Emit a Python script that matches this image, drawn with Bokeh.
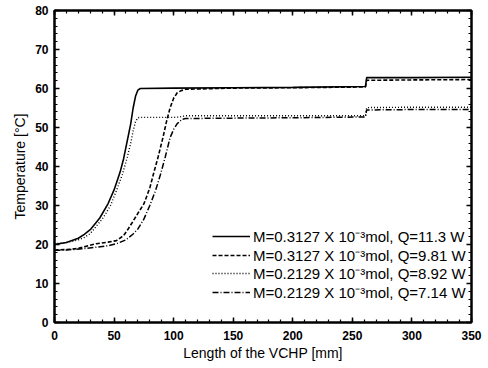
from bokeh.plotting import figure
from bokeh.models import (LinearAxis, SingleIntervalTicker, Range1d, Legend, LegendItem,
                          CustomJSTickFormatter)
from bokeh.embed import file_html
from bokeh.resources import INLINE

# Temperature profiles along the VCHP (length in mm, temperature in degC)
x_a = [0, 10, 20, 25, 30, 38, 45, 50, 55, 58, 62, 64, 66, 68, 70, 72, 100, 150, 200, 261, 262, 300, 350]
t_a = [20.0, 20.5, 21.6, 22.6, 23.8, 26.8, 30.5, 34.0, 38.5, 42.0, 48.0, 51.0, 55.0, 58.0, 59.6, 60.0,
       60.1, 60.2, 60.3, 60.5, 62.8, 62.8, 62.9]

x_b = [0, 10, 20, 35, 45, 52, 58, 61, 65, 70, 75, 80, 83, 87, 91, 94, 97, 100, 103, 106, 110, 150, 200,
       261, 262, 300, 350]
t_b = [18.6, 18.7, 19.0, 20.2, 20.6, 21.0, 22.3, 23.6, 25.5, 28.0, 30.4, 34.5, 38.0, 42.5, 47.4, 51.5,
       55.0, 57.5, 58.9, 59.4, 59.8, 60.1, 60.2, 60.4, 62.1, 62.2, 62.3]

x_c = [0, 10, 20, 25, 30, 41, 47, 52, 57, 61, 64, 66, 68, 70, 72, 100, 105, 110, 150, 200, 261, 262, 300, 350]
t_c = [20.2, 20.5, 21.2, 21.8, 22.8, 26.9, 30.0, 33.8, 38.0, 42.3, 46.0, 49.1, 51.5, 52.5, 52.6, 52.6,
       52.7, 53.0, 53.0, 53.0, 53.0, 55.1, 55.2, 55.2]

x_d = [0, 10, 24, 35, 45, 52, 60, 66, 70, 75, 80, 85, 89, 93, 97, 100, 103, 107, 110, 150, 200, 261, 262,
       300, 350]
t_d = [18.5, 18.6, 18.9, 19.3, 19.7, 20.2, 21.2, 22.7, 24.0, 26.5, 30.0, 34.0, 38.0, 42.5, 47.4, 49.5,
       51.0, 52.1, 52.3, 52.4, 52.5, 52.7, 54.5, 54.6, 54.6]

labels = [
    "M=0.3127 X 10\u207b\u00b3mol, Q=11.3 W",
    "M=0.3127 X 10\u207b\u00b3mol, Q=9.81 W",
    "M=0.2129 X 10\u207b\u00b3mol, Q=8.92 W",
    "M=0.2129 X 10\u207b\u00b3mol, Q=7.14 W",
]

FONT = "Liberation Sans"

p = figure(width=488, height=368, output_backend="svg", toolbar_location=None,
           x_range=Range1d(0, 350), y_range=Range1d(0, 80),
           min_border_left=54, min_border_right=17, min_border_top=10, min_border_bottom=46)
p.background_fill_color = "white"
p.border_fill_color = "white"
p.outline_line_color = "black"
p.outline_line_width = 2
p.xgrid.visible = False
p.ygrid.visible = False

r1 = p.line(x_a, t_a, line_color="black", line_width=1.6)
r2 = p.line(x_b, t_b, line_color="black", line_width=1.6, line_dash="4 2")
r3 = p.line(x_c, t_c, line_color="black", line_width=1.4, line_dash="1 2")
r4 = p.line(x_d, t_d, line_color="black", line_width=1.5, line_dash="6 2 1 2")


def style_axis(ax):
    ax.axis_line_color = "black"
    ax.axis_line_width = 2
    ax.major_tick_in = 5
    ax.major_tick_out = 0
    ax.minor_tick_in = 3
    ax.minor_tick_out = 0
    ax.major_tick_line_width = 1.5
    ax.minor_tick_line_width = 1.2
    ax.major_tick_line_color = "black"
    ax.minor_tick_line_color = "black"
    ax.major_label_text_font = FONT
    ax.major_label_text_font_size = "12px"
    ax.major_label_text_font_style = "bold"
    ax.major_label_text_color = "black"
    ax.axis_label_text_font = FONT
    ax.axis_label_text_font_size = "14px"
    ax.axis_label_text_font_style = "normal"
    ax.axis_label_text_color = "black"


p.xaxis.ticker = SingleIntervalTicker(interval=50, num_minor_ticks=5)
p.yaxis.ticker = SingleIntervalTicker(interval=10, num_minor_ticks=5)
p.xaxis.axis_label = "Length of the VCHP [mm]"
p.yaxis.axis_label = "Temperature [\u00b0C]"
style_axis(p.xaxis[0])
style_axis(p.yaxis[0])
p.xaxis.major_label_standoff = 8
p.xaxis.axis_label_standoff = 2
p.yaxis.major_label_standoff = 6
p.yaxis.axis_label_standoff = 4

# mirrored tick marks on the top and right edges of the frame, without labels
blank = CustomJSTickFormatter(code="return ''")
top = LinearAxis(ticker=SingleIntervalTicker(interval=50, num_minor_ticks=5), formatter=blank)
right = LinearAxis(ticker=SingleIntervalTicker(interval=10, num_minor_ticks=5), formatter=blank)
for ax in (top, right):
    style_axis(ax)
    ax.major_label_standoff = 0
p.add_layout(top, "above")
p.add_layout(right, "right")

# one single-entry legend per series so the rows can sit closer than the text box height
renderers = [r1, r2, r3, r4]
row_pitch = 18.7
for i, (lab, rend) in enumerate(zip(labels, renderers)):
    lg = Legend(items=[LegendItem(label=lab, renderers=[rend])],
                location=(158, 20 + (len(labels) - 1 - i) * row_pitch),
                border_line_color=None, background_fill_alpha=0,
                padding=0, margin=0, spacing=0, glyph_width=38, glyph_height=16,
                label_height=16, label_standoff=3, label_text_font=FONT,
                label_text_font_size="15px", label_text_color="black")
    p.add_layout(lg, "center")

open("out.html", "w").write(file_html(p, INLINE))
